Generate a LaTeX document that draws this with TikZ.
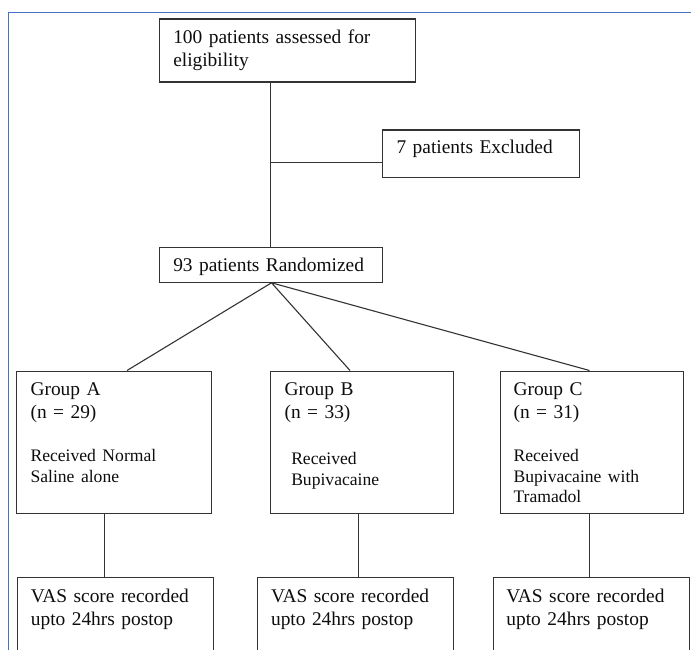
\documentclass[tikz,border=0pt]{standalone}
\usepackage{fontspec}
\setmainfont{Liberation Serif}
\definecolor{frameblue}{HTML}{4472C4}
\newcommand{\bigtxt}{\fontsize{19.4}{23}\selectfont}
\newcommand{\smalltxt}{\fontsize{17.6}{20.8}\selectfont}

\begin{document}
\begin{tikzpicture}[x=1pt, y=-1pt,
  box/.style={rectangle, draw=black!80, line width=1.1pt, anchor=north west, inner ysep=0pt, align=left, text=black!95, font=\bigtxt},
  link/.style={draw=black!80, line width=1.1pt}]
\useasboundingbox (0,0) rectangle (691,650);
\clip (0,0) rectangle (691,650);
\draw[frameblue, line width=1pt] (8,650) -- (8,12.5) -- (691,12.5);
\path (159,18.5) node[box, inner xsep=13.7pt, text width=228.3pt, text height=24.5pt, text depth=63pt-24.5pt](top) {100 patients assessed for\\eligibility}
(381.5,129.5) node[box, inner xsep=14.5pt, text width=168.5pt, text height=23.5pt, text depth=24pt](excl) {7 patients Excluded}
(159,246.5) node[box, inner xsep=13.7pt, text width=195.9pt, text height=24.2pt, text depth=11pt](rand) {93 patients Randomized}
(16,370.5) node[box, inner xsep=14pt, text width=167pt, text height=24.5pt, text depth=117.5pt](ga) {Group A\\(n = 29)\par\vspace{21.9pt}{\smalltxt Received Normal\\Saline alone\par}}
(270,370.5) node[box, inner xsep=14pt, text width=154.7pt, text height=24.5pt, text depth=117.5pt](gb) {Group B\\(n = 33)\par\vspace{25.2pt}{\smalltxt\hspace*{6.7pt}Received\\\hspace*{6.7pt}Bupivacaine\par}}
(499.5,370.5) node[box, inner xsep=13.5pt, text width=156pt, text height=24.5pt, text depth=117.5pt](gc) {Group C\\(n = 31)\par\vspace{21.9pt}{\smalltxt Received\\Bupivacaine with\\Tramadol\par}}
(17,577) node[box, inner xsep=13.3pt, text width=169.7pt, text height=24.7pt, text depth=75.3pt](va) {VAS score recorded\\upto 24hrs postop}
(256.5,577) node[box, inner xsep=14pt, text width=168pt, text height=24.7pt, text depth=75.3pt](vb) {VAS score recorded\\upto 24hrs postop}
(492.5,577) node[box, inner xsep=13.4pt, text width=169.2pt, text height=24.7pt, text depth=75.3pt](vc) {VAS score recorded\\upto 24hrs postop};
%junction points on the connectors
\coordinate (jn) at (270.5,162.5);
\coordinate (fan) at (271.5,0);
\coordinate (pa) at (127,0);
\coordinate (pb) at (350,0);
\coordinate (pc) at (589.5,0);
\coordinate (la) at (104.5,0);
\coordinate (lb) at (358.5,0);
\coordinate (lc) at (589.5,0);
\draw[link] (top.south -| jn) -- (rand.north -| jn);
\draw[link] (jn) -- (excl.west |- jn);
\draw[link] (rand.south -| fan) -- (ga.north -| pa);
\draw[link] (rand.south -| fan) -- (gb.north -| pb);
\draw[link] (rand.south -| fan) -- (gc.north -| pc);
\draw[link] (ga.south -| la) -- (va.north -| la);
\draw[link] (gb.south -| lb) -- (vb.north -| lb);
\draw[link] (gc.south -| lc) -- (vc.north -| lc);
\end{tikzpicture}
\end{document}
